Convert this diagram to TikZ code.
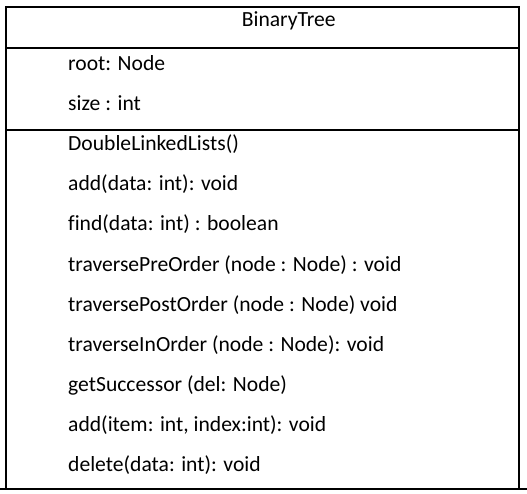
\documentclass[tikz,border=0pt]{standalone}
\usepackage{fontspec}
\setmainfont{Carlito}[Ligatures={NoCommon}]
\begin{document}
\begin{tikzpicture}[x=1pt,y=-1pt,
  border/.style={line width=1.2pt, black},
  member/.style={anchor=base west, inner sep=0pt, font=\fontsize{21.6}{25}\selectfont},
  titletext/.style={anchor=base, inner sep=0pt, font=\fontsize{21.6}{25}\selectfont}]
\useasboundingbox (0,0) rectangle (527,494);
% frame
\draw[border] (6,489) -- (6,7) -- (519,7) -- (519,489);
\draw[border] (0,489) -- (527,489);
\draw[border] (6,48) -- (519,48);
\draw[border] (6,130) -- (519,130);
% title
\node[titletext] (title) at (288.7,27) {BinaryTree};
% attributes
\node[member] (a1) at (68,71) {root: Node};
\node[member] (a2) at (68,111) {size : int};
% methods
\node[member] (m1) at (68,151) {DoubleLinkedLists()};
\node[member] (m2) at (68,191) {add(data: int): void};
\node[member] (m3) at (68,231) {find(data: int) : boolean};
\node[member] (m4) at (68,271) {traversePreOrder (node : Node) : void};
\node[member] (m5) at (68,311) {traversePostOrder (node : Node) void};
\node[member] (m6) at (68,351) {traverseInOrder (node : Node): void};
\node[member] (m7) at (68,391) {getSuccessor (del: Node)};
\node[member] (m8) at (68,431) {add(item: int, index:int): void};
\node[member] (m9) at (68,471) {delete(data: int): void};
\end{tikzpicture}
\end{document}
